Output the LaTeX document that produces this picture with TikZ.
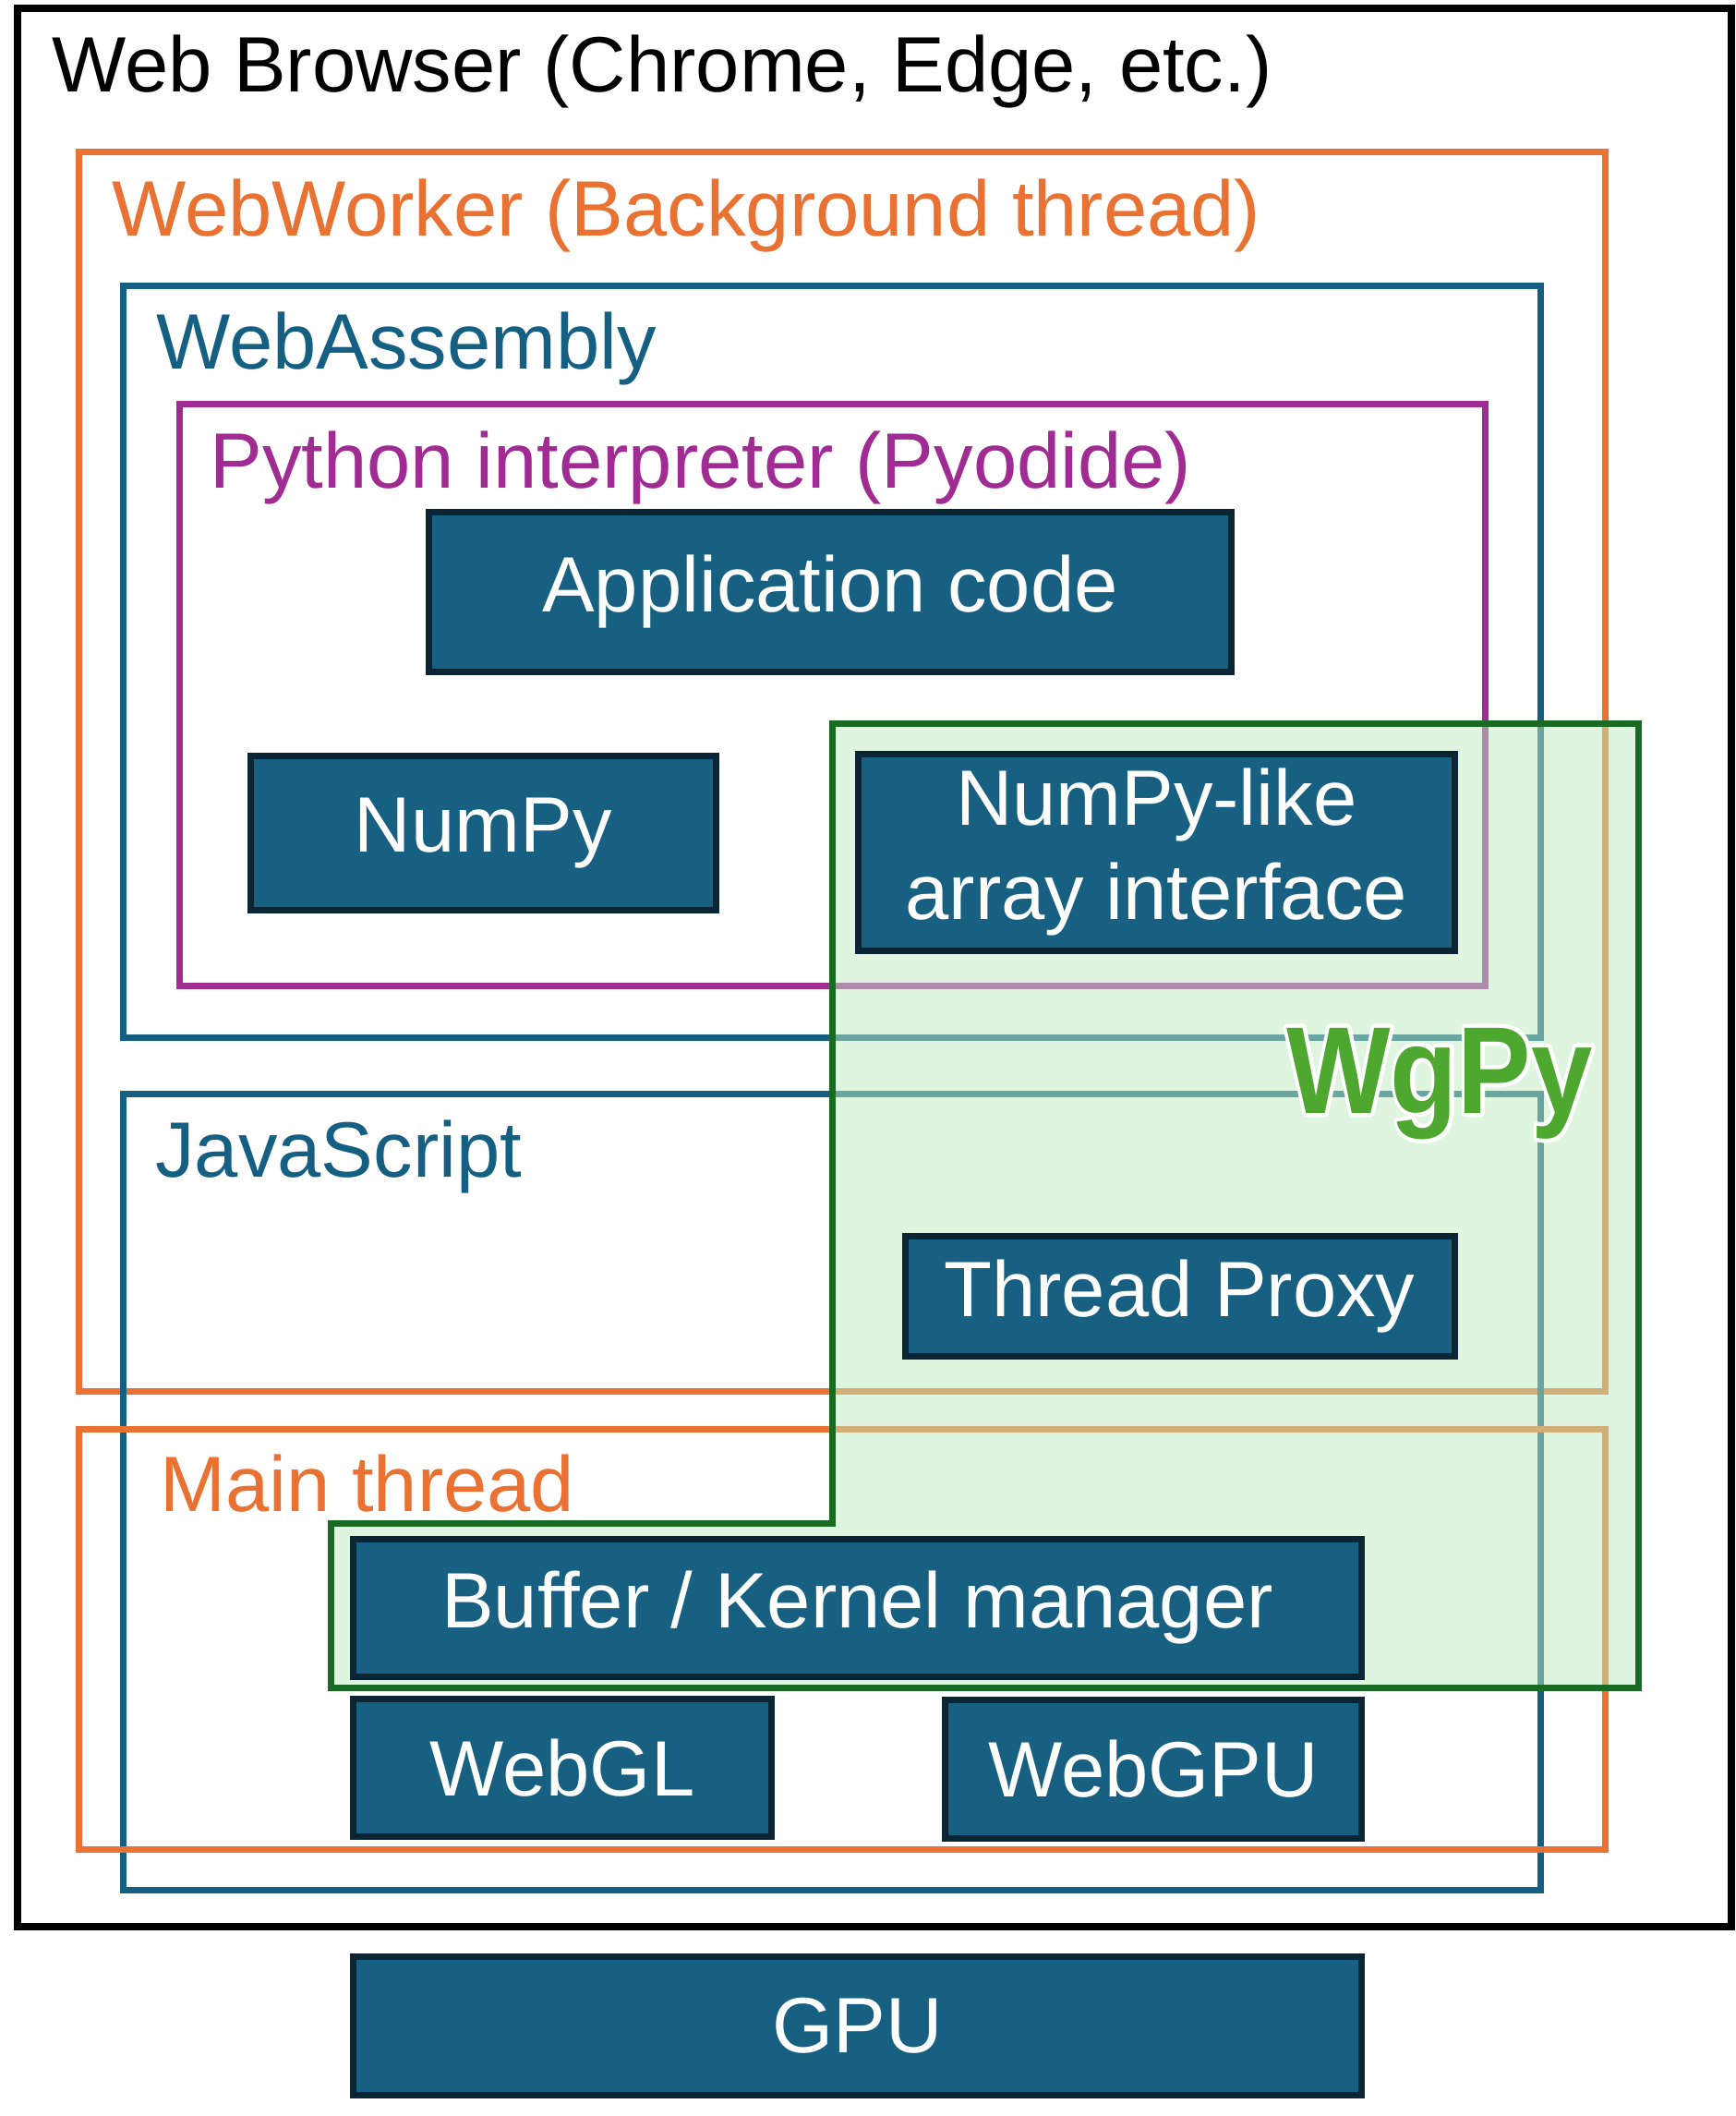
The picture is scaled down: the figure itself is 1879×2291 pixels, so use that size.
\documentclass[tikz,border=0pt]{standalone}
\usepackage{fontspec}
\setmainfont{Liberation Sans}
\usepackage{graphicx}
\definecolor{cOrange}{HTML}{E97132}
\definecolor{cBlue}{HTML}{156082}
\definecolor{cPurple}{HTML}{A02B93}
\definecolor{cGreen}{HTML}{196B24}
\definecolor{cGreenFill}{RGB}{192,236,192}
\definecolor{cWg}{HTML}{4EA72E}
\definecolor{nodeFill}{HTML}{176082}
\definecolor{nodeEdge}{HTML}{0B2535}
\newcommand{\lbfont}{\fontsize{42.5}{51}\selectfont}
\newcommand{\wgfont}{\fontsize{67}{80}\selectfont\bfseries}
\newcommand{\outlined}[1]{\special{pdf:literal direct 1 1 1 RG 4.5 w 1 j 2 Tr}#1\special{pdf:literal direct 0 Tr}}
\begin{document}
\begin{tikzpicture}[x=0.5pt,y=-0.5pt,
  cont/.style={line width=3.5pt},
  ttl/.style={anchor=base west,inner sep=0pt,font=\lbfont},
  blk/.style={draw=nodeEdge,fill=nodeFill,line width=3.5pt,text=white,font=\lbfont,align=center,inner sep=0pt},
  wg/.style={anchor=base west,inner sep=0pt,font=\wgfont}]
\useasboundingbox (0,0) rectangle (1879,2291);
% containers
\draw[line width=4pt,black] (19,9) rectangle (1875,2086);
\node[ttl,text=black] (tbrowser) at (56,99) {Web Browser (Chrome, Edge, etc.)};
\draw[cont,cOrange] (85.5,164) rectangle (1738.5,1506);
\node[ttl,text=cOrange] (tworker) at (121,255) {WebWorker (Background thread)};
\draw[cont,cBlue] (133.5,309) rectangle (1668.5,1123.5);
\node[ttl,text=cBlue] (twasm) at (169,399) {WebAssembly};
\draw[cont,cPurple] (194,437.5) rectangle (1608.5,1067);
\node[ttl,text=cPurple] (tpy) at (227,528) {Python interpreter (Pyodide)};
\draw[cont,cBlue] (133.5,1184) rectangle (1668.5,2046);
\node[ttl,text=cBlue] (tjs) at (168,1274) {JavaScript};
\draw[cont,cOrange] (85.5,1547.5) rectangle (1738.5,2002);
\node[ttl,text=cOrange] (tmain) at (173,1636) {Main thread};
% WgPy region
\fill[cGreenFill,fill opacity=0.5] (901,783) -- (1774.5,783) -- (1774.5,1827) -- (358,1827) -- (358,1649.5) -- (901,1649.5) -- cycle;
\draw[cont,cGreen] (901,783) -- (1774.5,783) -- (1774.5,1827) -- (358,1827) -- (358,1649.5) -- (901,1649.5) -- cycle;
% blocks
\node[blk,minimum width=434.5pt,minimum height=86.5pt] (app) at (899,641) {Application code};
\node[blk,minimum width=252.25pt,minimum height=83.1pt] (numpy) at (523.25,901.9) {NumPy};
\node[blk,minimum width=322.75pt,minimum height=106.5pt] (nlike) at (1252.25,922.5) {NumPy-like\\array interface};
\node[blk,minimum width=297.5pt,minimum height=64.75pt] (proxy) at (1277.5,1403.25) {Thread Proxy};
\node[blk,minimum width=546pt,minimum height=74.75pt] (buf) at (928.5,1740.75) {Buffer / Kernel manager};
\node[blk,minimum width=226.5pt,minimum height=74.5pt] (webgl) at (609,1914) {WebGL};
\node[blk,minimum width=225.5pt,minimum height=75pt] (webgpu) at (1249,1915.5) {WebGPU};
\node[blk,minimum width=546pt,minimum height=75pt] (gpu) at (928.5,2193.5) {GPU};
% WgPy label with white outline (stroked copy under the filled text)
\node[wg,text=white] (wgout) at (1393,1205) {\scalebox{0.89}[1]{\outlined{WgPy}}};
\node[wg,text=cWg] (wgpy) at (1393,1205) {\scalebox{0.89}[1]{WgPy}};
\end{tikzpicture}
\end{document}
